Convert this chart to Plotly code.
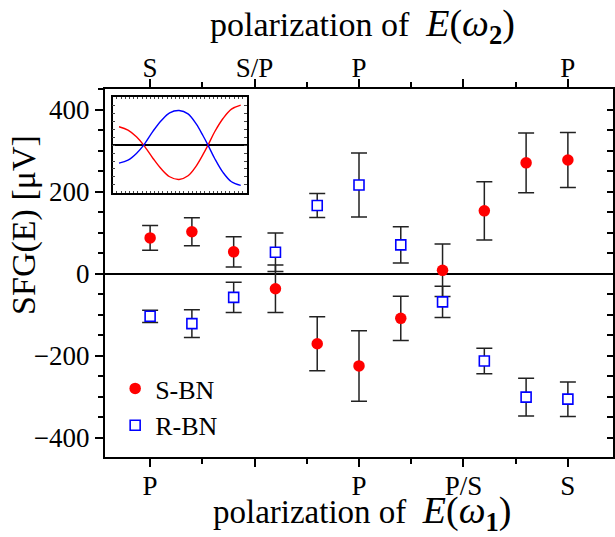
import plotly.graph_objects as go

# ---- data ----
positions = [0, 1, 2, 3, 4, 5, 6, 7, 8, 9, 10]
s_bn = [87, 102, 53, -37, -171, -225, -109, 8, 153, 270, 277]
s_bn_err = [30, 34, 37, 58, 66, 86, 54, 64, 71, 73, 67]
r_bn = [-104, -122, -58, 52, 166, 216, 70, -69, -213, -301, -306]
r_bn_err = [15, 34, 37, 47, 29, 78, 44, 38, 31, 46, 42]

bottom_tickvals = [0, 2.5, 5, 7.5, 10]
bottom_ticktext = ["P", "", "P", "P/S", "S"]
top_ticktext = ["S", "S/P", "P", "", "P"]
minor_tickvals = [1.25, 3.75, 6.25, 8.75]
y_tickvals = [-400, -200, 0, 200, 400]

# inset curves (normalized coordinates)
inset_x = [0.047, 0.114, 0.177, 0.231, 0.301, 0.363, 0.425, 0.495,
           0.562, 0.624, 0.674, 0.711, 0.761, 0.823, 0.886, 0.955]
inset_red = [0.385, 0.315, 0.175, 0.0, -0.28, -0.503, -0.664, -0.72,
             -0.643, -0.434, -0.196, 0.0, 0.28, 0.559, 0.755, 0.839]
inset_blue = [-0.378, -0.315, -0.175, 0.0, 0.294, 0.517, 0.678, 0.727,
              0.657, 0.44, 0.196, 0.0, -0.28, -0.573, -0.769, -0.846]

FONT = "Liberation Serif, Times New Roman, serif"
XR = [-1.08, 11.08]
YR = [-447, 450]
TICKSIZE = 27

fig = go.Figure()

fig.add_trace(go.Scatter(
    x=positions, y=s_bn, mode="markers", name="S-BN",
    marker=dict(symbol="circle", size=11.5, color="#ff0000"),
    error_y=dict(type="data", array=s_bn_err, color="#222222", thickness=1.5, width=8),
))
fig.add_trace(go.Scatter(
    x=positions, y=r_bn, mode="markers", name="R-BN",
    marker=dict(symbol="square", size=10, color="white", line=dict(color="#0000ff", width=1.6)),
    error_y=dict(type="data", array=r_bn_err, color="#222222", thickness=1.5, width=8),
))
# helper traces so top/right axes render
fig.add_trace(go.Scatter(x=[None], y=[None], xaxis="x2", yaxis="y", showlegend=False, hoverinfo="skip"))
fig.add_trace(go.Scatter(x=[None], y=[None], xaxis="x", yaxis="y2", showlegend=False, hoverinfo="skip"))

# inset
fig.add_trace(go.Scatter(x=inset_x, y=inset_red, mode="lines", line=dict(color="#ff0000", width=1.4, shape="spline"),
                         xaxis="x3", yaxis="y3", showlegend=False, hoverinfo="skip"))
fig.add_trace(go.Scatter(x=inset_x, y=inset_blue, mode="lines", line=dict(color="#0000ff", width=1.4, shape="spline"),
                         xaxis="x3", yaxis="y3", showlegend=False, hoverinfo="skip"))

axis_common = dict(showline=True, linecolor="black", linewidth=2, showgrid=False, zeroline=False,
                   tickfont=dict(family=FONT, size=TICKSIZE, color="black"), tickcolor="black", tickwidth=1.5,
                   automargin=False)

fig.update_layout(
    width=615, height=537,
    margin=dict(l=105, r=2, t=89, b=80),
    paper_bgcolor="white", plot_bgcolor="white",
    font=dict(family=FONT, color="black"),
    xaxis=dict(**axis_common, range=XR, tickmode="array", tickvals=bottom_tickvals, ticktext=bottom_ticktext,
               ticks="outside", ticklen=8, ticklabelstandoff=-4,
               minor=dict(tickmode="array", tickvals=minor_tickvals, ticks="outside", ticklen=5,
                          tickcolor="black", tickwidth=1.5)),
    xaxis2=dict(**axis_common, range=XR, overlaying="x", side="top", anchor="y",
                tickmode="array", tickvals=bottom_tickvals, ticktext=top_ticktext,
                ticks="outside", ticklen=8, ticklabelstandoff=-9,
                minor=dict(tickmode="array", tickvals=minor_tickvals, ticks="outside", ticklen=5,
                           tickcolor="black", tickwidth=1.5)),
    yaxis=dict(**{k: v for k, v in axis_common.items() if k != "zeroline"},
               range=YR, tickmode="array", tickvals=y_tickvals, ticks="outside", ticklen=8,
               zeroline=True, zerolinecolor="black", zerolinewidth=2,
               minor=dict(tick0=0, dtick=50, ticks="outside", ticklen=5, tickcolor="black", tickwidth=1.5)),
    yaxis2=dict(**axis_common, range=YR, overlaying="y", side="right", anchor="x",
                tickmode="linear", tick0=0, dtick=50, ticks="inside", ticklen=6, showticklabels=False),
    xaxis3=dict(domain=[0.0152, 0.279], anchor="y3", range=[0, 1], showline=True, linecolor="black",
                linewidth=1.5, mirror="allticks", ticks="inside", ticklen=2, tickcolor="#444",
                tickmode="linear", tick0=0, dtick=1 / 32, showticklabels=False, showgrid=False, zeroline=False),
    yaxis3=dict(domain=[0.718, 0.977], anchor="x3", range=[-1, 1], showline=True, linecolor="black",
                linewidth=1.5, mirror="allticks", ticks="inside", ticklen=3, tickcolor="#444",
                tickmode="linear", tick0=0, dtick=1 / 6, showticklabels=False, showgrid=False,
                zeroline=True, zerolinecolor="black", zerolinewidth=1.5),
    legend=dict(x=0.02, y=0.25, xanchor="left", yanchor="top", bgcolor="rgba(0,0,0,0)",
                font=dict(family=FONT, size=26, color="black"), tracegroupgap=0),
    showlegend=True,
)

fig.add_annotation(
    text="polarization of\u00a0 <span style='font-size:38px'><i>E</i>(<i>ω</i><sub><b>2</b></sub>)</span>",
    xref="paper", yref="paper", x=0.506, y=1.17, xanchor="center", yanchor="middle",
    showarrow=False, font=dict(family=FONT, size=34, color="black"))
fig.add_annotation(
    text="polarization of\u00a0 <span style='font-size:38px'><i>E</i>(<i>ω</i><sub><b>1</b></sub>)</span>",
    xref="paper", yref="paper", x=0.506, y=-0.153, xanchor="center", yanchor="middle",
    showarrow=False, font=dict(family=FONT, size=33, color="black"))
fig.add_annotation(
    text="SFG(E) [μV]", textangle=-90,
    xref="paper", yref="paper", x=-0.16, y=0.63, xanchor="center", yanchor="middle",
    showarrow=False, font=dict(family=FONT, size=34, color="black"))

fig.write_html("out.html", config={"displayModeBar": False},
               post_script="document.body.style.margin='0';document.body.style.padding='0';")
